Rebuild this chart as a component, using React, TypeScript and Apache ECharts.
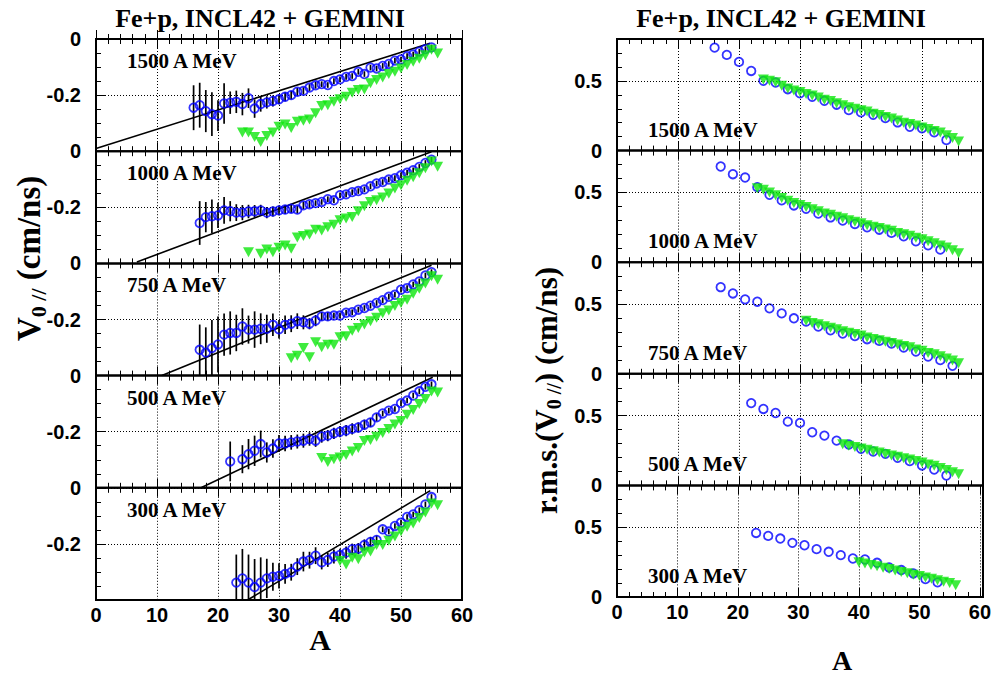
import React, { useEffect, useRef } from "react";
import * as echarts from "echarts";

// ---------------- data ----------------
const energyLabels = ["1500 A MeV", "1000 A MeV", "750 A MeV", "500 A MeV", "300 A MeV"];
const xTickLabels = [0, 10, 20, 30, 40, 50, 60];
const v0TickLabels = [-0.2, 0];
const rmsTickLabels = [0, 0.5];

// Left column: V0// (cm/ns). Blue: consecutive A from first A (null = no point)
const v0BlueFirstA = [16, 17, 17, 22, 23];
const v0Blue1500 = [-0.245, -0.236, -0.257, -0.268, -0.273, -0.23, -0.227, -0.224, -0.232, -0.211, -0.248, -0.232, -0.226, -0.221, -0.215, -0.206, -0.2, -0.188, -0.185, -0.173, -0.165, -0.161, -0.164, -0.15, -0.144, -0.135, -0.132, -0.117, -0.125, -0.102, -0.105, -0.096, -0.089, -0.077, -0.073, -0.061, -0.055, -0.045, -0.036, -0.03];
const v0Err1500 = [0.08, 0.08, 0.075, 0.078, 0.055, 0.072, 0.04, 0.04, 0.04, 0.035, 0.033, 0.027, 0.022, 0.02, 0.018, 0.016, 0.015, 0.014, 0.013, 0.012, 0.012, 0.01, 0.01, 0.01, 0.01, 0.01, 0.01, 0.01, 0.01, 0.01, 0.01, 0.01, 0.01, 0.01, 0.01, 0.01, 0.01, 0.01, 0.01, 0.01];
const v0Blue1000 = [-0.256, -0.235, -0.232, -0.229, -0.211, -0.214, -0.219, -0.219, -0.215, -0.214, -0.211, -0.219, -0.215, -0.211, -0.208, -0.205, -0.208, -0.193, -0.189, -0.185, -0.181, -0.171, -0.175, -0.157, -0.154, -0.146, -0.142, -0.136, -0.125, -0.115, -0.11, -0.101, -0.096, -0.086, -0.077, -0.068, -0.056, -0.042, -0.03];
const v0Err1000 = [0.078, 0.054, 0.06, 0.045, 0.048, 0.036, 0.03, 0.027, 0.024, 0.022, 0.02, 0.02, 0.018, 0.017, 0.016, 0.015, 0.014, 0.013, 0.012, 0.01, 0.01, 0.01, 0.01, 0.01, 0.01, 0.01, 0.01, 0.01, 0.01, 0.01, 0.01, 0.01, 0.01, 0.01, 0.01, 0.01, 0.01, 0.01, 0.01];
const v0Blue750 = [-0.308, -0.318, -0.302, -0.289, -0.254, -0.248, -0.248, -0.225, -0.236, -0.236, -0.233, -0.233, -0.219, -0.235, -0.219, -0.215, -0.206, -0.21, -0.215, -0.204, -0.189, -0.189, -0.186, -0.186, -0.176, -0.174, -0.165, -0.159, -0.151, -0.141, -0.131, -0.119, -0.112, -0.094, -0.088, -0.075, -0.064, -0.043, -0.031];
const v0Err750 = [0.09, 0.09, 0.1, 0.1, 0.075, 0.077, 0.065, 0.065, 0.05, 0.065, 0.055, 0.05, 0.04, 0.033, 0.033, 0.03, 0.028, 0.025, 0.02, 0.02, 0.015, 0.015, 0.01, 0.01, 0.01, 0.01, 0.01, 0.01, 0.01, 0.01, 0.01, 0.01, 0.01, 0.01, 0.01, 0.01, 0.01, 0.01, 0.01];
const v0Blue500 = [-0.306, null, -0.298, -0.28, -0.268, -0.244, -0.274, -0.26, -0.242, -0.242, -0.238, -0.235, -0.232, -0.226, -0.232, -0.217, -0.214, -0.206, -0.2, -0.196, -0.19, -0.185, -0.175, -0.167, -0.149, -0.135, -0.125, -0.119, -0.098, -0.089, -0.071, -0.056, -0.04, -0.031];
const v0Err500 = [0.071, null, 0.05, 0.054, 0.054, 0.048, 0.036, 0.033, 0.03, 0.028, 0.026, 0.025, 0.025, 0.024, 0.022, 0.022, 0.02, 0.02, 0.02, 0.02, 0.02, 0.018, 0.018, 0.016, 0.014, 0.01, 0.01, 0.01, 0.01, 0.01, 0.01, 0.01, 0.01, 0.01];
const v0Blue300 = [-0.338, -0.323, -0.338, -0.354, -0.338, -0.323, -0.317, -0.314, -0.307, -0.301, -0.281, -0.263, -0.258, -0.242, -0.266, -0.257, -0.245, -0.239, -0.231, -0.219, -0.217, -0.204, -0.193, -0.186, -0.148, -0.156, -0.136, -0.124, -0.104, -0.095, -0.08, -0.059, -0.033];
const v0Err300 = [0.1, 0.105, 0.1, 0.1, 0.09, 0.07, 0.05, 0.045, 0.035, 0.03, 0.03, 0.035, 0.03, 0.03, 0.025, 0.025, 0.025, 0.022, 0.022, 0.02, 0.02, 0.02, 0.018, 0.016, 0.01, 0.01, 0.01, 0.01, 0.01, 0.01, 0.01, 0.01, 0.01];

const v0GreenFirstA = [24, 25, 32, 37, 40];
const v0Green1500 = [-0.333, -0.333, -0.349, -0.367, -0.346, -0.333, -0.313, -0.305, -0.317, -0.295, -0.291, -0.287, -0.265, -0.239, -0.236, -0.224, -0.215, -0.206, -0.192, -0.182, -0.18, -0.158, -0.146, -0.137, -0.125, -0.117, -0.105, -0.093, -0.081, -0.07, -0.058, -0.038, -0.052];
const v0Green1000 = [-0.36, null, -0.366, -0.35, -0.36, -0.344, -0.336, -0.348, -0.308, -0.302, -0.297, -0.28, -0.283, -0.271, -0.262, -0.246, -0.24, -0.235, -0.214, -0.196, -0.181, -0.175, -0.165, -0.151, -0.133, -0.121, -0.105, -0.093, -0.079, -0.061, -0.037, -0.055];
const v0Green750 = [-0.338, -0.329, -0.302, -0.335, -0.281, -0.299, -0.29, -0.29, -0.263, -0.26, -0.24, -0.23, -0.218, -0.206, -0.194, -0.178, -0.168, -0.152, -0.141, -0.13, -0.108, -0.09, -0.072, -0.046, -0.058];
const v0Green500 = [-0.294, -0.308, -0.298, -0.292, -0.283, -0.271, -0.258, -0.233, -0.23, -0.218, -0.205, -0.19, -0.174, -0.162, -0.14, -0.123, -0.101, -0.083, -0.057, -0.06];
const v0Green300 = [-0.261, -0.273, -0.249, -0.255, -0.231, -0.227, -0.204, -0.204, -0.189, -0.174, -0.155, -0.139, -0.127, -0.108, -0.088, -0.056, -0.062];

// straight reference lines (A endpoints, V0 endpoints)
const v0LineA = [[0, 54.75], [6.7, 55], [10.8, 55], [17.3, 55.2], [24.7, 54.8]];
const v0LineV = [[-0.39, -0.015], [-0.395, -0.002], [-0.4, -0.007], [-0.399, -0.006], [-0.402, -0.01]];

// Right column: r.m.s.(V0//). Blue every 2nd A, green every A
const rmsBlueFirstA = [16, 17, 17, 22, 23];
const rmsBlue1500 = [0.738, 0.686, 0.636, 0.571, 0.5, 0.488, 0.44, 0.41, 0.386, 0.357, 0.329, 0.29, 0.274, 0.257, 0.233, 0.202, 0.171, 0.16, 0.131, 0.076];
const rmsBlue1000 = [0.686, 0.631, 0.607, 0.538, 0.483, 0.443, 0.407, 0.383, 0.348, 0.321, 0.298, 0.274, 0.25, 0.233, 0.21, 0.186, 0.15, 0.121, 0.09];
const rmsBlue750 = [0.621, 0.576, 0.533, 0.517, 0.469, 0.433, 0.398, 0.374, 0.338, 0.312, 0.288, 0.271, 0.248, 0.236, 0.217, 0.188, 0.159, 0.124, 0.098, 0.057];
const rmsBlue500 = [0.59, 0.548, 0.519, 0.457, 0.448, 0.381, 0.357, 0.321, 0.293, 0.262, 0.243, 0.226, 0.198, 0.174, 0.143, 0.114, 0.071];
const rmsBlue300 = [0.459, 0.438, 0.419, 0.388, 0.371, 0.343, 0.324, 0.3, 0.276, 0.269, 0.245, 0.212, 0.193, 0.169, 0.129, 0.105];

const rmsGreenFirstA = [24, 23, 31, 37, 40];
const rmsGreen1500 = [0.51, 0.5, 0.49, 0.465, 0.445, 0.43, 0.42, 0.405, 0.395, 0.38, 0.365, 0.355, 0.34, 0.325, 0.31, 0.3, 0.29, 0.28, 0.265, 0.255, 0.24, 0.23, 0.215, 0.2, 0.19, 0.18, 0.165, 0.155, 0.14, 0.13, 0.11, 0.09, 0.065];
const rmsGreen1000 = [0.53, 0.52, 0.5, 0.48, 0.46, 0.44, 0.425, 0.41, 0.395, 0.38, 0.365, 0.35, 0.34, 0.325, 0.315, 0.3, 0.29, 0.28, 0.265, 0.255, 0.245, 0.235, 0.225, 0.21, 0.2, 0.19, 0.175, 0.165, 0.15, 0.135, 0.12, 0.105, 0.085, 0.065];
const rmsGreen750 = [0.38, 0.365, 0.355, 0.34, 0.33, 0.32, 0.305, 0.295, 0.285, 0.275, 0.26, 0.25, 0.24, 0.23, 0.22, 0.21, 0.2, 0.19, 0.175, 0.165, 0.15, 0.14, 0.125, 0.11, 0.095, 0.075];
const rmsGreen500 = [0.295, 0.285, 0.275, 0.265, 0.255, 0.245, 0.235, 0.225, 0.215, 0.205, 0.195, 0.185, 0.175, 0.165, 0.15, 0.14, 0.125, 0.11, 0.095, 0.08];
const rmsGreen300 = [0.25, 0.24, 0.23, 0.22, 0.21, 0.2, 0.19, 0.18, 0.17, 0.16, 0.15, 0.14, 0.13, 0.12, 0.11, 0.1, 0.085];

const v0BlueSets = [v0Blue1500, v0Blue1000, v0Blue750, v0Blue500, v0Blue300];
const v0ErrSets = [v0Err1500, v0Err1000, v0Err750, v0Err500, v0Err300];
const v0GreenSets = [v0Green1500, v0Green1000, v0Green750, v0Green500, v0Green300];
const rmsBlueSets = [rmsBlue1500, rmsBlue1000, rmsBlue750, rmsBlue500, rmsBlue300];
const rmsGreenSets = [rmsGreen1500, rmsGreen1000, rmsGreen750, rmsGreen500, rmsGreen300];

// ---------------- layout / style ----------------
const LEFT_X = 96;
const RIGHT_X = 617;
const PANEL_W = 366;
const TOP = 39;
const LEFT_H = 112.2;
const RIGHT_H = 111.6;
const BLUE = "#0000ff";
const GREEN = "#0ee60e";
const SERIF = '"Liberation Serif", "Times New Roman", serif';
const SANS = '"Liberation Sans", Arial, sans-serif';
const DOT: any = [1, 2];

function measure(text: string, font: string): number {
  const ctx = document.createElement("canvas").getContext("2d");
  if (!ctx) return text.length * 10;
  ctx.font = font;
  return ctx.measureText(text).width;
}

function rotatedTitle(parts: { t: string; size: number; dy: number }[], cx: number, startY: number) {
  let off = 0;
  const children: any[] = [];
  parts.forEach((p) => {
    const font = `bold ${p.size}px ${SERIF}`;
    children.push({
      type: "text",
      x: off,
      y: p.dy,
      style: { text: p.t, font, fill: "#000", align: "left", verticalAlign: "middle" },
    });
    off += measure(p.t, font);
  });
  return { type: "group", x: cx, y: startY, rotation: Math.PI / 2, children };
}

function buildOption() {
  const grid: any[] = [];
  const xAxis: any[] = [];
  const yAxis: any[] = [];
  const series: any[] = [];
  const graphic: any[] = [];

  const tickLabel = { fontSize: 20, fontWeight: "bold", fontFamily: SANS, color: "#000" };

  for (let col = 0; col < 2; col++) {
    for (let i = 0; i < 5; i++) {
      const g = col * 5 + i;
      const h = col === 0 ? LEFT_H : RIGHT_H;
      const left = col === 0 ? LEFT_X : RIGHT_X;
      const top = TOP + i * h;
      grid.push({ left, top, width: PANEL_W, height: h, show: false });
      // panel frame
      graphic.push({
        type: "rect",
        silent: true,
        shape: { x: left, y: top, width: PANEL_W, height: h },
        style: { fill: "none", stroke: "#000", lineWidth: 2 },
        z: 20,
      });
      const isBottom = i === 4;
      const xCommon = {
        type: "value",
        gridIndex: g,
        min: 0,
        max: 60,
        interval: 10,
        axisLine: { show: false },
        axisTick: { show: true, inside: true, length: 9, lineStyle: { color: "#000", width: 1 } },
        minorTick: { show: true, splitNumber: 5, length: 5, lineStyle: { color: "#000", width: 1 } },
      };
      xAxis.push({
        ...xCommon,
        position: "bottom",
        splitLine: { show: true, lineStyle: { color: "#000", width: 1, type: DOT } },
        axisLabel: {
          show: isBottom,
          margin: 5,
          ...tickLabel,
          formatter: (v: number) => (xTickLabels.indexOf(v) >= 0 ? String(v) : ""),
        },
      });
      xAxis.push({
        ...xCommon,
        position: "top",
        splitLine: { show: false },
        axisLabel: { show: false },
      });
      if (col === 0) {
        yAxis.push({
          type: "value",
          gridIndex: g,
          min: -0.4,
          max: 0,
          interval: 0.2,
          axisLine: { show: false },
          axisTick: { show: true, inside: true, length: 10, lineStyle: { color: "#000", width: 1 } },
          minorTick: { show: true, splitNumber: 4, length: 5, lineStyle: { color: "#000", width: 1 } },
          splitLine: { show: true, lineStyle: { color: "#000", width: 1, type: DOT } },
          axisLabel: {
            margin: 15,
            ...tickLabel,
            formatter: (v: number) => {
              const t = v0TickLabels.find((l) => Math.abs(l - v) < 1e-9);
              return t === undefined ? "" : String(t);
            },
          },
        });
      } else {
        yAxis.push({
          type: "value",
          gridIndex: g,
          min: 0,
          max: 0.8,
          interval: 0.5,
          axisLine: { show: false },
          axisTick: { show: true, inside: true, length: 10, lineStyle: { color: "#000", width: 1 } },
          minorTick: { show: true, splitNumber: 5, length: 5, lineStyle: { color: "#000", width: 1 } },
          splitLine: { show: false },
          axisLabel: {
            margin: 15,
            ...tickLabel,
            formatter: (v: number) => {
              const t = rmsTickLabels.find((l) => Math.abs(l - v) < 1e-9);
              return t === undefined ? "" : String(t);
            },
          },
        });
      }

      if (col === 0) {
        const a0 = v0BlueFirstA[i];
        const blueData: number[][] = [];
        const errData: number[][] = [];
        v0BlueSets[i].forEach((v, k) => {
          if (v === null) return;
          const e = v0ErrSets[i][k] as number;
          blueData.push([a0 + k, v]);
          errData.push([a0 + k, v - e, v + e]);
        });
        const greenData: number[][] = [];
        v0GreenSets[i].forEach((v, k) => {
          if (v === null) return;
          greenData.push([v0GreenFirstA[i] + k, v]);
        });
        series.push({
          type: "line",
          xAxisIndex: 2 * g,
          yAxisIndex: g,
          data: [
            [v0LineA[i][0], v0LineV[i][0]],
            [v0LineA[i][1], v0LineV[i][1]],
          ],
          symbol: "none",
          showSymbol: false,
          clip: true,
          lineStyle: { color: "#000", width: 1.6 },
          z: 2,
        });
        series.push({
          type: "custom",
          xAxisIndex: 2 * g,
          yAxisIndex: g,
          data: errData,
          renderItem: (_p: any, api: any) => {
            const x = api.value(0);
            const lo = Math.max(api.value(1), -0.4);
            const hi = Math.min(api.value(2), 0);
            const p1 = api.coord([x, lo]);
            const p2 = api.coord([x, hi]);
            return {
              type: "line",
              shape: { x1: p1[0], y1: p1[1], x2: p2[0], y2: p2[1] },
              style: { stroke: "#000", lineWidth: 1.7 },
            };
          },
          z: 3,
        });
        series.push({
          type: "scatter",
          xAxisIndex: 2 * g,
          yAxisIndex: g,
          data: blueData,
          symbol: "circle",
          symbolSize: 8.5,
          itemStyle: { color: "rgba(0,0,0,0)", borderColor: BLUE, borderWidth: 1.8 },
          z: 4,
        });
        series.push({
          type: "scatter",
          xAxisIndex: 2 * g,
          yAxisIndex: g,
          data: greenData,
          symbol: "triangle",
          symbolRotate: 180,
          symbolSize: [11, 10],
          itemStyle: { color: GREEN },
          z: 5,
        });
      } else {
        const blueData = rmsBlueSets[i].map((v, k) => [rmsBlueFirstA[i] + 2 * k, v]);
        const greenData = rmsGreenSets[i].map((v, k) => [rmsGreenFirstA[i] + k, v]);
        series.push({
          type: "scatter",
          xAxisIndex: 2 * g,
          yAxisIndex: g,
          data: blueData,
          symbol: "circle",
          symbolSize: 8.5,
          itemStyle: { color: "rgba(0,0,0,0)", borderColor: BLUE, borderWidth: 1.8 },
          markLine: {
            silent: true,
            symbol: "none",
            label: { show: false },
            lineStyle: { color: "#000", width: 1, type: DOT },
            data: [{ yAxis: 0.5 }],
          },
          z: 4,
        });
        series.push({
          type: "scatter",
          xAxisIndex: 2 * g,
          yAxisIndex: g,
          data: greenData,
          symbol: "triangle",
          symbolRotate: 180,
          symbolSize: [11, 10],
          itemStyle: { color: GREEN },
          z: 5,
        });
      }

      // energy label
      graphic.push({
        type: "text",
        x: col === 0 ? 127 : 648,
        y: col === 0 ? top + 22 : top + h - 21,
        style: {
          text: energyLabels[i],
          font: `bold 21px ${SERIF}`,
          fill: "#000",
          align: "left",
          verticalAlign: "middle",
        },
        z: 10,
      });
    }
  }

  // titles
  graphic.push({
    type: "text",
    x: 260,
    y: 18,
    style: { text: "Fe+p, INCL42 + GEMINI", font: `bold 26px ${SERIF}`, fill: "#000", align: "center", verticalAlign: "middle" },
  });
  graphic.push({
    type: "text",
    x: 781,
    y: 18,
    style: { text: "Fe+p, INCL42 + GEMINI", font: `bold 26px ${SERIF}`, fill: "#000", align: "center", verticalAlign: "middle" },
  });
  // x titles
  graphic.push({
    type: "text",
    x: 320,
    y: 639,
    style: { text: "A", font: `bold 30px ${SERIF}`, fill: "#000", align: "center", verticalAlign: "middle" },
  });
  graphic.push({
    type: "text",
    x: 842,
    y: 660,
    style: { text: "A", font: `bold 28px ${SERIF}`, fill: "#000", align: "center", verticalAlign: "middle" },
  });
  // y titles
  graphic.push(
    rotatedTitle(
      [
        { t: "V", size: 33, dy: 0 },
        { t: "0 //", size: 22, dy: 9 },
        { t: " (cm/ns)", size: 33, dy: 0 },
      ],
      29,
      341
    )
  );
  graphic.push(
    rotatedTitle(
      [
        { t: "r.m.s.(V", size: 31, dy: 0 },
        { t: "0 //", size: 20, dy: 8 },
        { t: ") (cm/ns)", size: 31, dy: 0 },
      ],
      546,
      514
    )
  );

  return {
    animation: false,
    backgroundColor: "#fff",
    grid,
    xAxis,
    yAxis,
    series,
    graphic,
  };
}

export default function App() {
  const ref = useRef<HTMLDivElement>(null);
  useEffect(() => {
    if (!ref.current) return;
    const chart = echarts.init(ref.current, undefined, { renderer: "svg" });
    chart.setOption(buildOption() as any);
    return () => chart.dispose();
  }, []);
  return (
    <div
      ref={ref}
      style={{ position: "absolute", left: 0, top: 0, width: 994, height: 675, background: "#fff" }}
    />
  );
}
